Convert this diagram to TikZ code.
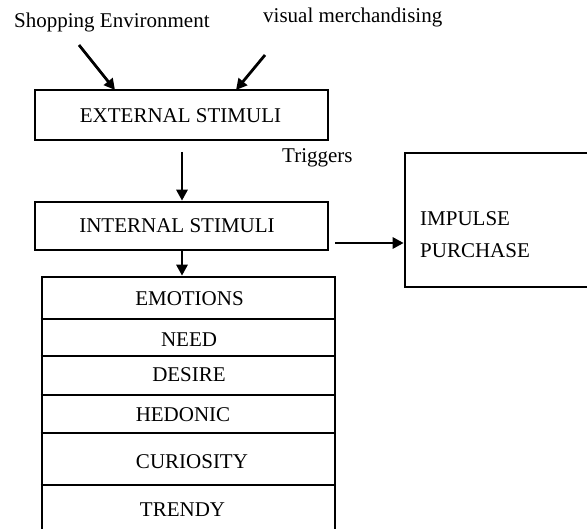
\documentclass[tikz,border=0pt]{standalone}
\usepackage{fontspec}
\setmainfont{Liberation Serif}
\usetikzlibrary{arrows.meta,calc}
\begin{document}
\begin{tikzpicture}[x=1pt,y=-1pt,
  box/.style={draw,line width=2.6pt,inner sep=0pt},
  lbl/.style={inner sep=0pt,font=\fontsize{21}{25}\selectfont},
  arr/.style={line width=2.8pt,-{Triangle[length=11pt,width=11pt]}},
  divider/.style={line width=2.4pt}]
\useasboundingbox (0,0) rectangle (587,529);
\clip (0,0) rectangle (587,529);
% boxes
\node[box,minimum width=293pt,minimum height=50pt] (ext) at (181.5,115) {};
\node[box,minimum width=293pt,minimum height=48pt] (int) at (181.5,226) {};
\node[box,minimum width=200pt,minimum height=134pt] (imp) at (505,220) {};
\node[box,minimum width=293pt,minimum height=280pt] (stack) at (188.5,417) {};
% dividers in the stack
\foreach \yy in {319,356,395,433,485}
  \draw[divider] (stack.west |- 0,\yy) -- (stack.east |- 0,\yy);
% texts
\node[lbl,anchor=base west] (shop) at (14,28) {Shopping Environment};
\node[lbl,anchor=base west] (vis) at (263,23) {visual merchandising};
\node[lbl,anchor=base] (extt) at (180.5,123) {EXTERNAL STIMULI};
\node[lbl,anchor=base west] (trig) at (282,163) {Triggers};
\node[lbl,anchor=base] (intt) at (177,233) {INTERNAL STIMULI};
\node[lbl,anchor=base west] (imp1) at (420,226) {IMPULSE};
\node[lbl,anchor=base west] (imp2) at (420,258) {PURCHASE};
\node[lbl,anchor=base] (r1) at (189.5,306) {EMOTIONS};
\node[lbl,anchor=base] (r2) at (189,347) {NEED};
\node[lbl,anchor=base] (r3) at (189,382) {DESIRE};
\node[lbl,anchor=base] (r4) at (183,422) {HEDONIC};
\node[lbl,anchor=base] (r5) at (192,468) {CURIOSITY};
\node[lbl,anchor=base] (r6) at (182.5,517) {TRENDY};
% connector end points
\coordinate (s1) at (79,45);
\coordinate (e1) at (115,90);
\coordinate (s2) at (265,55);
\coordinate (e2) at (236,90);
\coordinate (s3) at (182,152);
\coordinate (s4) at (335,243);
% connectors
\draw[arr] (s1) -- (e1);
\draw[arr] (s2) -- (e2);
\draw[arr] (s3) -- (s3 |- int.north);
\draw[arr] (int.south -| s3) -- (s3 |- stack.north);
\draw[arr] (s4) -- (imp.west |- s4);
\end{tikzpicture}
\end{document}
